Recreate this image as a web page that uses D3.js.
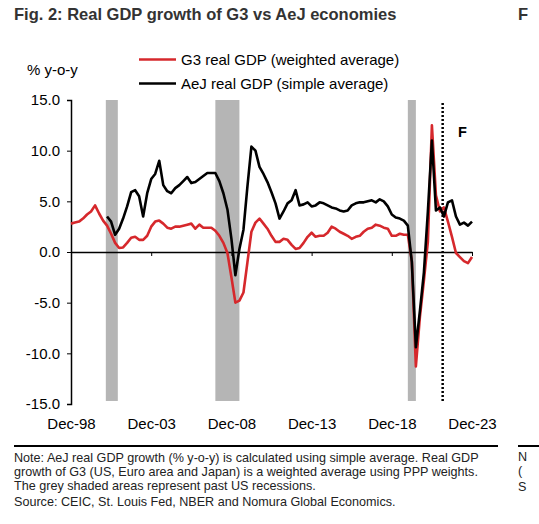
<!DOCTYPE html>
<html>
<head>
<meta charset="utf-8">
<script src="https://cdn.jsdelivr.net/npm/d3@7"></script>
<style>
  body { margin: 0; background: #fff; }
  svg { display: block; font-family: "Liberation Sans", Arial, sans-serif; }
</style>
</head>
<body>
<div id="chart"></div>
<script>
// quarterly series, Dec-98 .. Dec-23
const firstQuarter = '1998-12';
const g3Values = [
  2.8, 2.9, 3.0, 3.3, 3.7, 4.0, 4.6, 3.8, 3.1, 2.6,
  1.8, 0.9, 0.4, 0.45, 0.9, 1.4, 1.5, 1.2, 1.2, 1.6,
  2.5, 3.0, 3.1, 2.8, 2.4, 2.3, 2.5, 2.5, 2.6, 2.7,
  2.8, 2.3, 2.7, 2.4, 2.4, 2.4, 2.1, 1.6, 0.9, -0.1,
  -2.5, -5.0, -4.8, -4.0, -1.0, 2.0, 2.9, 3.3, 2.8, 2.3,
  1.6, 1.0, 1.0, 1.3, 1.2, 0.7, 0.3, 0.4, 0.9, 1.5,
  1.9, 1.5, 1.6, 1.6, 1.9, 2.5, 2.3, 2.0, 1.8, 1.6,
  1.3, 1.5, 1.6, 2.0, 2.3, 2.4, 2.7, 2.6, 2.4, 2.3,
  1.6, 1.6, 1.8, 1.7, 1.7, -0.9, -11.3, -6.4, -2.8, 1.0,
  12.5, 5.6, 4.0, 4.4, 3.0, 1.5, -0.1, -0.5, -0.9, -1.1,
  -0.5
];
const aejValues = [
  null, null, null, null, null, null, null, null, null,
  3.5, 3.0, 1.7, 2.3, 3.3, 4.5, 5.9, 6.1, 5.5, 3.5,
  5.8, 7.2, 7.7, 9.0, 6.6, 6.0, 5.8, 6.3, 6.6, 7.0,
  7.4, 6.8, 6.9, 7.2, 7.5, 7.8, 7.8, 7.8, 7.0, 5.8,
  4.2, 1.3, -2.3, 0.3, 2.2, 6.5, 10.4, 10.0, 8.4, 7.7,
  6.9, 5.9, 4.8, 3.3, 4.0, 4.8, 5.1, 6.1, 4.6, 4.7,
  4.9, 4.5, 4.6, 4.9, 4.8, 4.6, 4.4, 4.3, 4.1, 4.0,
  4.1, 4.6, 4.8, 4.9, 4.9, 5.0, 5.1, 4.9, 5.2, 5.0,
  4.5, 3.7, 3.4, 3.3, 3.1, 2.6, -1.0, -9.4, -5.8, -2.0,
  4.0, 11.0, 4.1, 4.4, 3.5, 4.9, 5.1, 3.5, 2.7, 2.9,
  2.6, 3.0
];
const recessions = [['2001-02', '2001-11'], ['2007-12', '2009-06'], ['2019-12', '2020-06']];
const forecastStart = '2022-02';
const xTickDates = ['1998-12', '2003-12', '2008-12', '2013-12', '2018-12', '2023-12'];
const xTickLabels = ['Dec-98', 'Dec-03', 'Dec-08', 'Dec-13', 'Dec-18', 'Dec-23'];
const yTicks = [15, 10, 5, 0, -5, -10, -15];
const seriesNames = ['G3 real GDP (weighted average)', 'AeJ real GDP (simple average)'];
const noteLines = [
  'Note: AeJ real GDP growth (% y-o-y) is calculated using simple average. Real GDP',
  'growth of G3 (US, Euro area and Japan) is a weighted average using PPP weights.',
  'The grey shaded areas represent past US recessions.',
  'Source: CEIC, St. Louis Fed, NBER and Nomura Global Economics.'
];

const parseMonth = d3.timeParse('%Y-%m');
const start = parseMonth(firstQuarter);
const quarters = g3Values.map((v, i) => d3.timeMonth.offset(start, i * 3));

const red = '#d6282c';
const width = 539, height = 524;

const svg = d3.select('#chart').append('svg')
  .attr('width', width)
  .attr('height', height);

const x = d3.scaleTime()
  .domain([parseMonth('1998-12'), parseMonth('2023-12')])
  .range([71, 472]);

const y = d3.scaleLinear()
  .domain([-15, 15])
  .range([404, 100]);

// title
svg.append('text')
  .attr('x', 14).attr('y', 20)
  .attr('font-size', 16.5).attr('font-weight', 'bold')
  .attr('fill', '#333')
  .text('Fig. 2: Real GDP growth of G3 vs AeJ economies');

svg.append('text')
  .attr('x', 27).attr('y', 75)
  .attr('font-size', 15)
  .text('% y-o-y');

// recession bars
svg.selectAll('rect.rec')
  .data(recessions)
  .enter()
  .append('rect')
  .attr('class', 'rec')
  .attr('x', d => x(parseMonth(d[0])))
  .attr('width', d => x(parseMonth(d[1])) - x(parseMonth(d[0])))
  .attr('y', y(15))
  .attr('height', y(-14.7) - y(15))
  .attr('fill', '#b5b5b5');

// forecast marker
svg.append('line')
  .attr('x1', x(parseMonth(forecastStart))).attr('x2', x(parseMonth(forecastStart)))
  .attr('y1', y(14.7)).attr('y2', y(-14.7))
  .attr('stroke', '#000')
  .attr('stroke-width', 2.5)
  .attr('stroke-dasharray', '2,2');

svg.append('text')
  .attr('x', 458).attr('y', 136.5)
  .attr('font-size', 14.5).attr('font-weight', 'bold')
  .text('F');

// axes
const yAxis = d3.axisLeft(y)
  .tickValues(yTicks)
  .tickSize(4)
  .tickPadding(7)
  .tickFormat(d => d.toFixed(1));

const gy = svg.append('g')
  .attr('transform', 'translate(71,0)')
  .call(yAxis);
gy.select('.domain').attr('stroke-width', 1.5);
gy.selectAll('text').attr('font-size', 15).attr('font-family', null).attr('fill', '#000');

const xAxis = d3.axisBottom(x)
  .tickValues(xTickDates.map(parseMonth))
  .tickSize(4)
  .tickSizeOuter(0)
  .tickFormat((d, i) => xTickLabels[i]);

const gx = svg.append('g')
  .attr('transform', `translate(0,${y(0)})`)
  .call(xAxis);
gx.select('.domain').attr('stroke-width', 1.3);
gx.selectAll('text')
  .attr('font-size', 15).attr('font-family', null).attr('fill', '#000')
  .attr('y', y(-15) - y(0) + 14);

// lines
const g3Line = d3.line()
  .x((d, i) => x(quarters[i]))
  .y(d => y(d));

const aejLine = d3.line()
  .defined(d => d !== null)
  .x((d, i) => x(quarters[i]))
  .y(d => y(d));

svg.append('path')
  .datum(g3Values)
  .attr('fill', 'none')
  .attr('stroke', red)
  .attr('stroke-width', 2.6)
  .attr('stroke-linejoin', 'round')
  .attr('d', g3Line);

svg.append('path')
  .datum(aejValues)
  .attr('fill', 'none')
  .attr('stroke', '#000')
  .attr('stroke-width', 2.6)
  .attr('stroke-linejoin', 'round')
  .attr('d', aejLine);

// legend
const legend = svg.append('g');
[red, '#000'].forEach((c, i) => {
  const ly = 59.5 + i * 24;
  legend.append('line')
    .attr('x1', 139).attr('x2', 176)
    .attr('y1', ly).attr('y2', ly)
    .attr('stroke', c).attr('stroke-width', 2.6);
  legend.append('text')
    .attr('x', 181).attr('y', ly)
    .attr('dy', '0.35em')
    .attr('font-size', 15)
    .text(seriesNames[i]);
});

// footer
svg.append('line')
  .attr('x1', 14).attr('x2', 498)
  .attr('y1', 446).attr('y2', 446)
  .attr('stroke', '#000').attr('stroke-width', 2);

const noteY = [462, 476, 490, 506];
svg.selectAll('text.note')
  .data(noteLines)
  .enter()
  .append('text')
  .attr('class', 'note')
  .attr('x', 14)
  .attr('y', (d, i) => noteY[i])
  .attr('font-size', 12.6)
  .attr('fill', '#222')
  .text(d => d);

// edge of the neighbouring figure
svg.append('text')
  .attr('x', 518).attr('y', 20)
  .attr('font-size', 16.5).attr('font-weight', 'bold').attr('fill', '#333')
  .text('F');
svg.append('line')
  .attr('x1', 518).attr('x2', 539)
  .attr('y1', 446).attr('y2', 446)
  .attr('stroke', '#000').attr('stroke-width', 2);
['N', '(', 'S'].forEach((t, i) => {
  svg.append('text')
    .attr('x', 518).attr('y', [461, 475, 491][i])
    .attr('font-size', 12.6).attr('fill', '#222')
    .text(t);
});
</script>
</body>
</html>
